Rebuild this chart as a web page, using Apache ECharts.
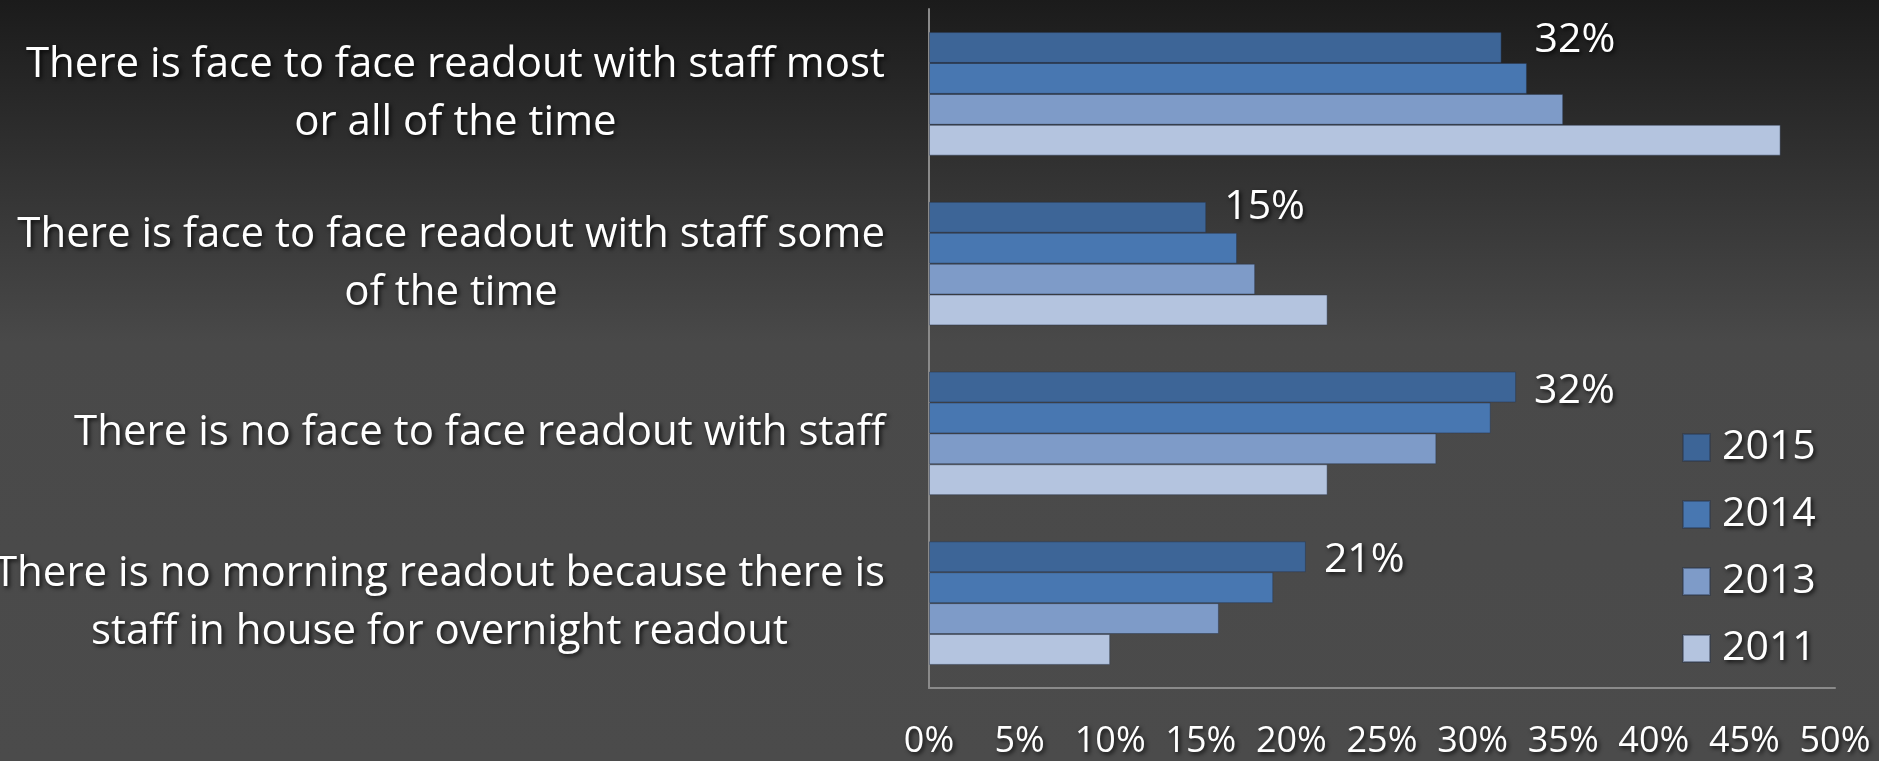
<!DOCTYPE html>
<html>
<head>
<meta charset="utf-8">
<script src="https://cdn.jsdelivr.net/npm/echarts@6/dist/echarts.min.js"></script>
<style>
  html, body { margin: 0; padding: 0; background: #4b4b4b; }
  #chart { width: 1879px; height: 761px; }
</style>
</head>
<body>
<div id="chart"></div>
<script>
// Morning readout arrangements, share of respondents by survey year
const categories = [
  ['There is face to face readout with staff most', 'or all of the time'],
  ['There is face to face readout with staff some', 'of the time'],
  ['There is no face to face readout with staff'],
  ['There is no morning readout because there is', 'staff in house for overnight readout']
];
const seriesNames = ['2015', '2014', '2013', '2011'];
const values2015 = [31.6, 15.3, 32.4, 20.8];
const values2014 = [33, 17, 31, 19];
const values2013 = [35, 18, 28, 16];
const values2011 = [47, 22, 22, 10];
const seriesValues = [values2015, values2014, values2013, values2011];
const xTicks = { min: 0, max: 50, step: 5 };

const barColors = ['#3d6597', '#4877b1', '#7e9bc8', '#b4c4df'];
// label placement per category for the 2015 value labels: [gap from bar end, vertical shift]
const labelPlacement = [[33, -7], [18, -10], [18, 4], [18, 4]];
const FONT = '"Open Sans"';
const shadow = {
  textShadowColor: 'rgba(0,0,0,0.8)',
  textShadowBlur: 4,
  textShadowOffsetX: 2,
  textShadowOffsetY: 2
};

const chart = echarts.init(document.getElementById('chart'), null, { renderer: 'canvas' });

const valueLabel = Object.assign({
  show: true,
  position: 'right',
  color: '#ffffff',
  fontFamily: FONT,
  fontSize: 41,
  formatter: p => Math.round(p.value) + '%'
}, shadow);

const series = seriesNames.map((name, i) => ({
  name: name,
  type: 'bar',
  data: i === 0
    ? seriesValues[i].map((v, j) => ({
        value: v,
        label: { distance: labelPlacement[j][0], offset: [0, labelPlacement[j][1]] }
      }))
    : seriesValues[i],
  barGap: '0%',
  barCategoryGap: '27.2%',
  itemStyle: {
    color: barColors[i],
    borderColor: 'rgba(40,50,70,0.45)',
    borderWidth: 1
  },
  label: i === 0 ? valueLabel : { show: false },
  emphasis: { disabled: true },
  animation: false
}));

chart.setOption({
  animation: false,
  backgroundColor: new echarts.graphic.LinearGradient(0, 0, 0, 1, [
    { offset: 0, color: '#1b1b1b' },
    { offset: 0.45, color: '#494949' },
    { offset: 1, color: '#4b4b4b' }
  ]),
  grid: { left: 929, right: 44, top: 9, bottom: 73, containLabel: false, outerBoundsMode: 'none' },
  legend: {
    orient: 'vertical',
    left: 1682,
    top: 427,
    padding: 0,
    itemWidth: 27,
    itemHeight: 27,
    itemGap: 26,
    icon: 'rect',
    data: seriesNames,
    selectedMode: false,
    textStyle: Object.assign({
      color: '#ffffff',
      fontFamily: FONT,
      fontSize: 41,
      padding: [0, 0, 0, 7]
    }, shadow)
  },
  xAxis: {
    type: 'value',
    min: xTicks.min,
    max: xTicks.max,
    interval: xTicks.step,
    axisLine: { show: true, lineStyle: { color: '#8a8a8a', width: 2 } },
    axisTick: { show: false },
    splitLine: { show: false },
    axisLabel: Object.assign({
      color: '#ffffff',
      fontFamily: FONT,
      fontSize: 36,
      margin: 36,
      formatter: '{value}%'
    }, shadow)
  },
  yAxis: {
    type: 'category',
    inverse: true,
    data: categories.map(lines => lines.join('\n')),
    axisLine: { show: true, lineStyle: { color: '#8a8a8a', width: 2 } },
    axisTick: { show: false },
    splitLine: { show: false },
    axisLabel: Object.assign({
      color: '#ffffff',
      fontFamily: FONT,
      fontSize: 42,
      lineHeight: 58,
      margin: 44,
      align: 'right',
      formatter: v => v.split('\n').map(l => '{c|' + l + '}').join('\n'),
      rich: {
        c: Object.assign({
          align: 'center',
          color: '#ffffff',
          fontFamily: FONT,
          fontSize: 42,
          lineHeight: 58
        }, shadow)
      }
    }, shadow)
  },
  series: series
});
</script>
</body>
</html>
